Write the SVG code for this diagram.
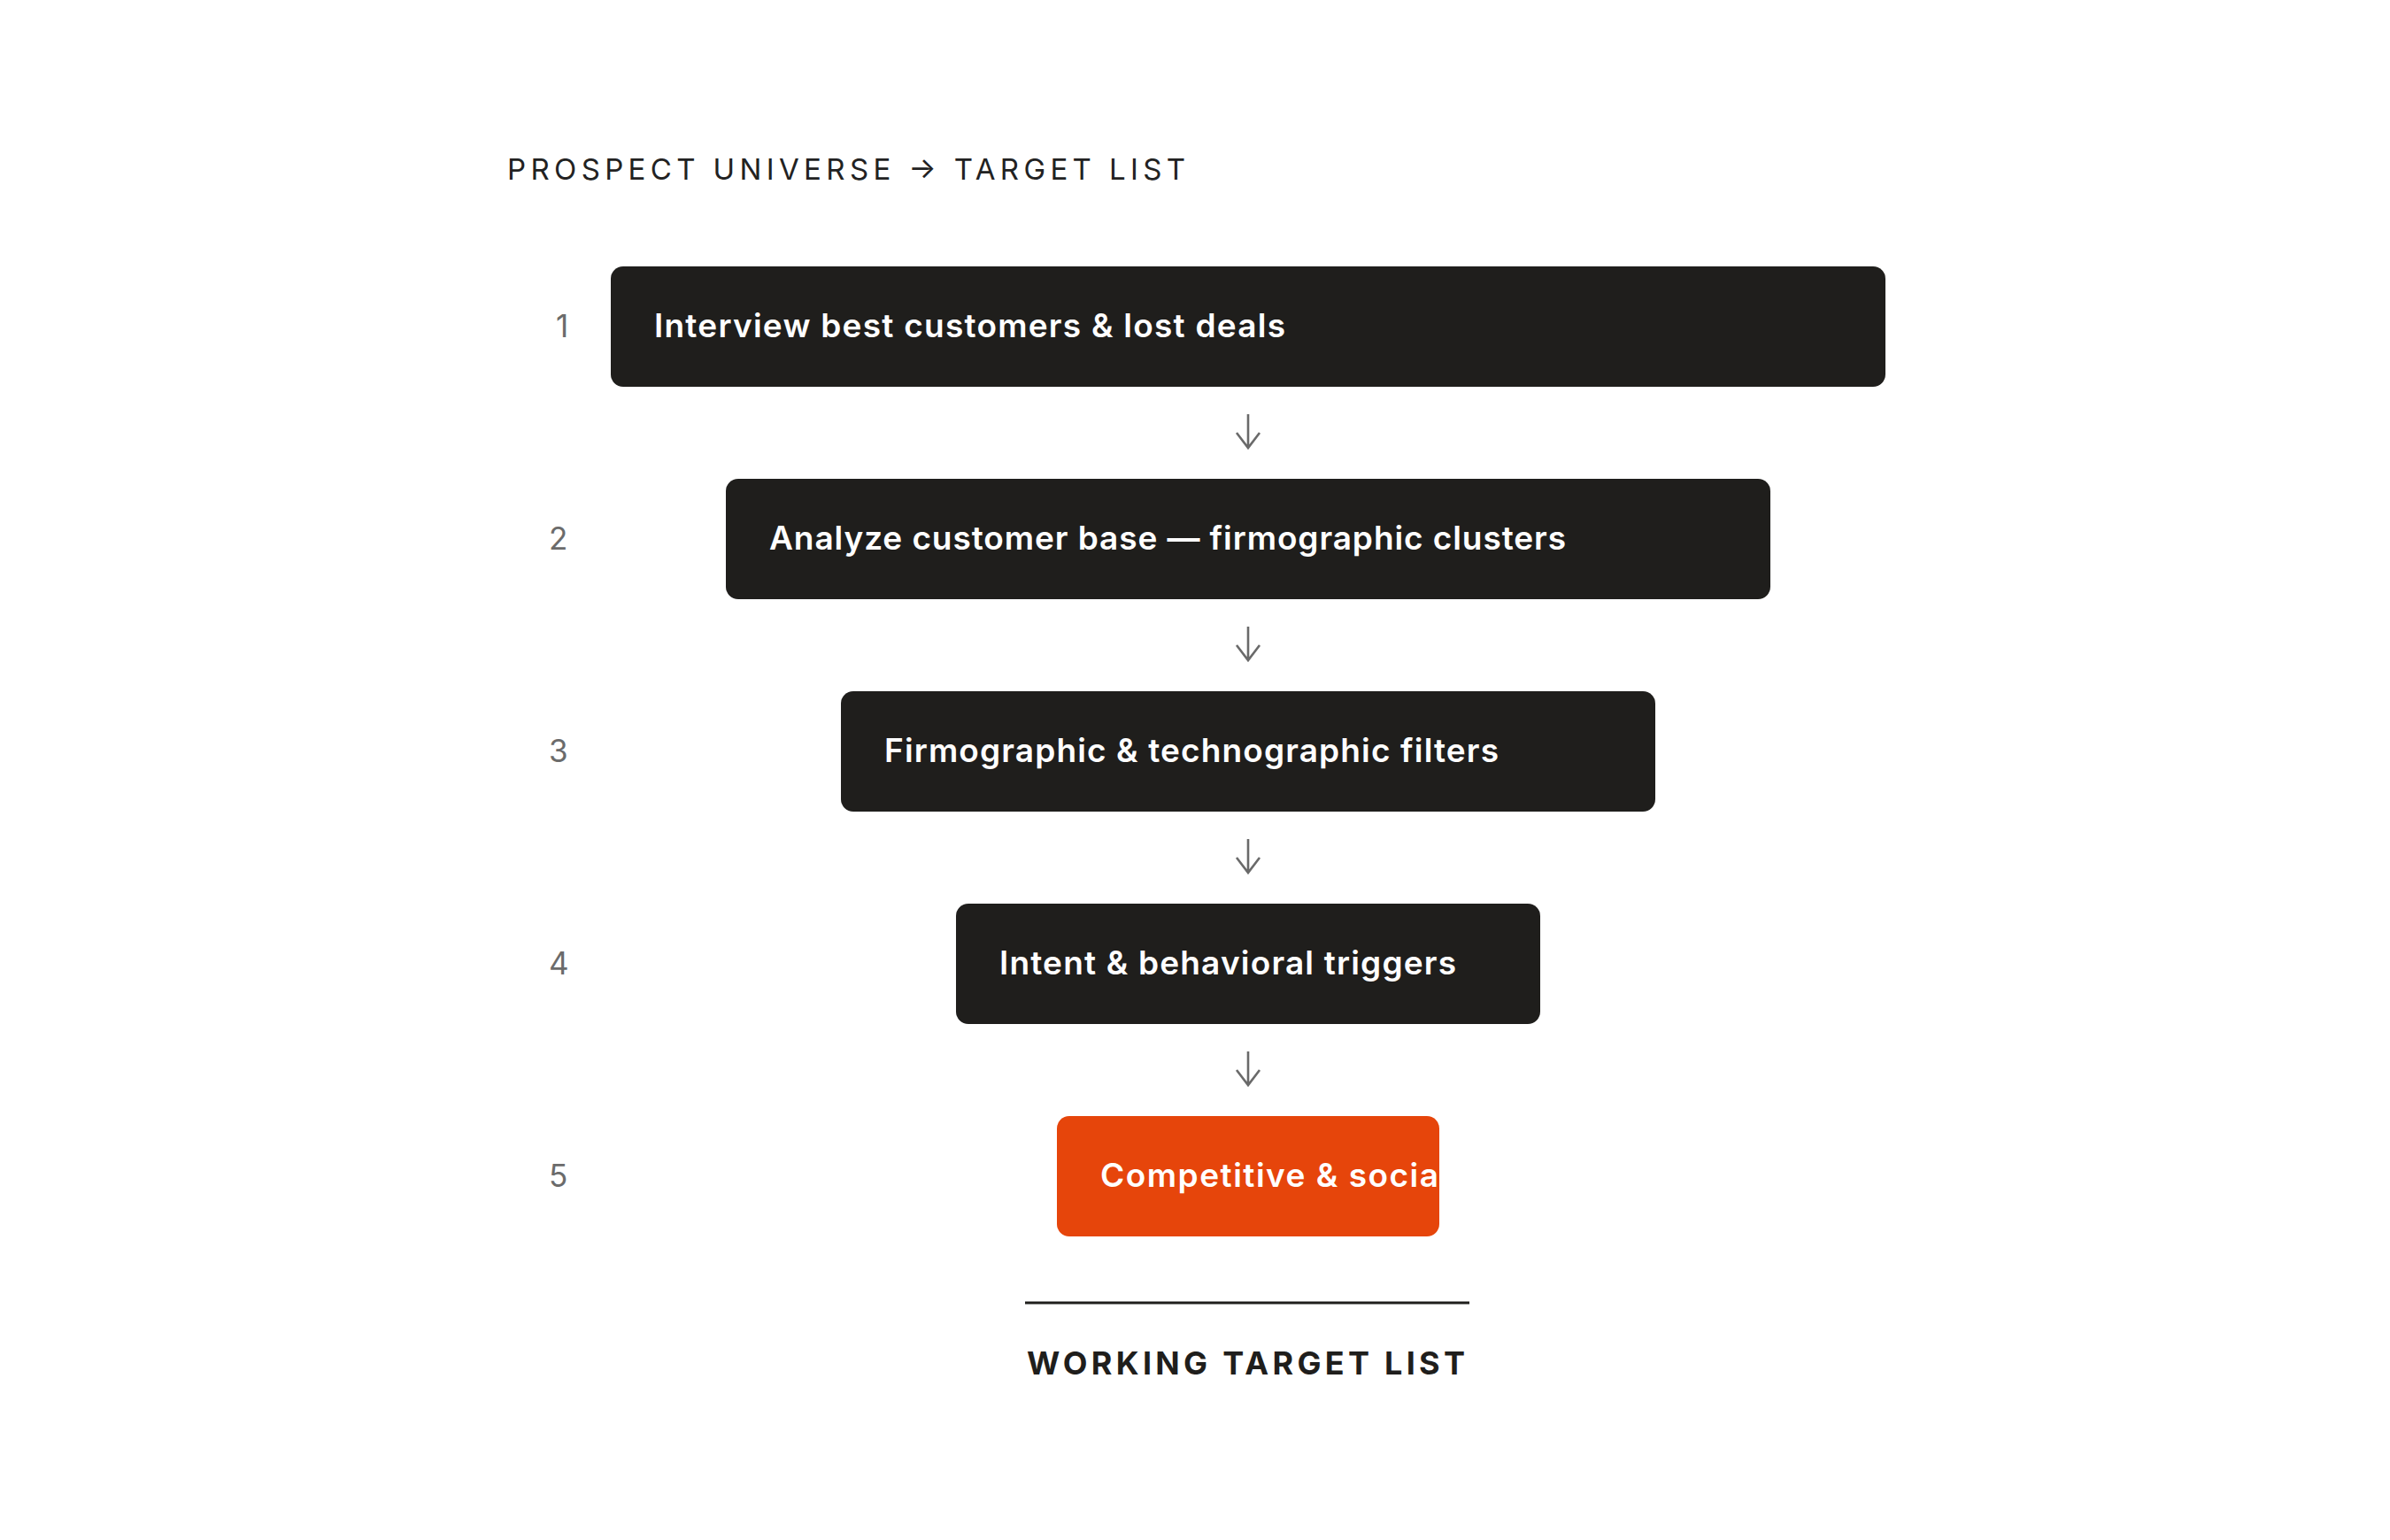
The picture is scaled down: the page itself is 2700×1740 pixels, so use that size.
<svg xmlns="http://www.w3.org/2000/svg" width="2700" height="1740" viewBox="0 0 2700 1740">
  <defs>
    <style>
      .title { font-family: Inter, "Liberation Sans", sans-serif; font-size: 33px; font-weight: 400; fill: #222222; }
      .num { font-family: Inter, "Liberation Sans", sans-serif; font-size: 35px; font-weight: 400; fill: #6b6b6b; }
      .box { fill: #1f1e1c; }
      .box-accent { fill: #e6450b; }
      .label { font-family: Inter, "Liberation Sans", sans-serif; font-size: 37px; font-weight: 600; fill: #ffffff; }
      .arrow { fill: none; stroke: #6a6a6a; stroke-width: 2.6; stroke-linecap: butt; stroke-linejoin: miter; }
      .rule { stroke: #1f1e1c; stroke-width: 3; }
      .footer { font-family: Inter, "Liberation Sans", sans-serif; font-size: 36px; font-weight: 700; fill: #1f1e1c; }
    </style>
    <clipPath id="clip5">
      <rect x="1194" y="1261" width="432" height="136" rx="14" ry="14"/>
    </clipPath>
  </defs>
  <rect width="2700" height="1740" fill="#ffffff"/>

  <text id="title" class="title" x="573" y="203" textLength="766" lengthAdjust="spacing">PROSPECT UNIVERSE → TARGET LIST</text>

  <g id="connectors">
    <path class="arrow" d="M1410 468 V506 M1397 489 L1410 506 L1423 489"/>
    <path class="arrow" d="M1410 708 V746 M1397 729 L1410 746 L1423 729"/>
    <path class="arrow" d="M1410 948 V986 M1397 969 L1410 986 L1423 969"/>
    <path class="arrow" d="M1410 1188 V1226 M1397 1209 L1410 1226 L1423 1209"/>
  </g>

  <g id="step1">
    <text class="num" x="628" y="381">1</text>
    <rect class="box" x="690" y="301" width="1440" height="136" rx="14" ry="14"/>
    <text class="label" x="739" y="381" textLength="713" lengthAdjust="spacing">Interview best customers &amp; lost deals</text>
  </g>
  <g id="step2">
    <text class="num" x="620" y="621">2</text>
    <rect class="box" x="820" y="541" width="1180" height="136" rx="14" ry="14"/>
    <text class="label" x="869" y="621" textLength="900" lengthAdjust="spacing">Analyze customer base — firmographic clusters</text>
  </g>
  <g id="step3">
    <text class="num" x="620" y="861">3</text>
    <rect class="box" x="950" y="781" width="920" height="136" rx="14" ry="14"/>
    <text class="label" x="999" y="861" textLength="694" lengthAdjust="spacing">Firmographic &amp; technographic filters</text>
  </g>
  <g id="step4">
    <text class="num" x="620" y="1101">4</text>
    <rect class="box" x="1080" y="1021" width="660" height="136" rx="14" ry="14"/>
    <text class="label" x="1129" y="1101" textLength="516" lengthAdjust="spacing">Intent &amp; behavioral triggers</text>
  </g>
  <g id="step5">
    <text class="num" x="620" y="1341">5</text>
    <rect class="box-accent" x="1194" y="1261" width="432" height="136" rx="14" ry="14"/>
    <text class="label" x="1243" y="1341" textLength="382" lengthAdjust="spacing" clip-path="url(#clip5)">Competitive &amp; socia</text>
  </g>

  <g id="result">
    <line class="rule" x1="1158" y1="1472" x2="1660" y2="1472"/>
    <text class="footer" x="1160" y="1553" textLength="495" lengthAdjust="spacing">WORKING TARGET LIST</text>
  </g>
</svg>
